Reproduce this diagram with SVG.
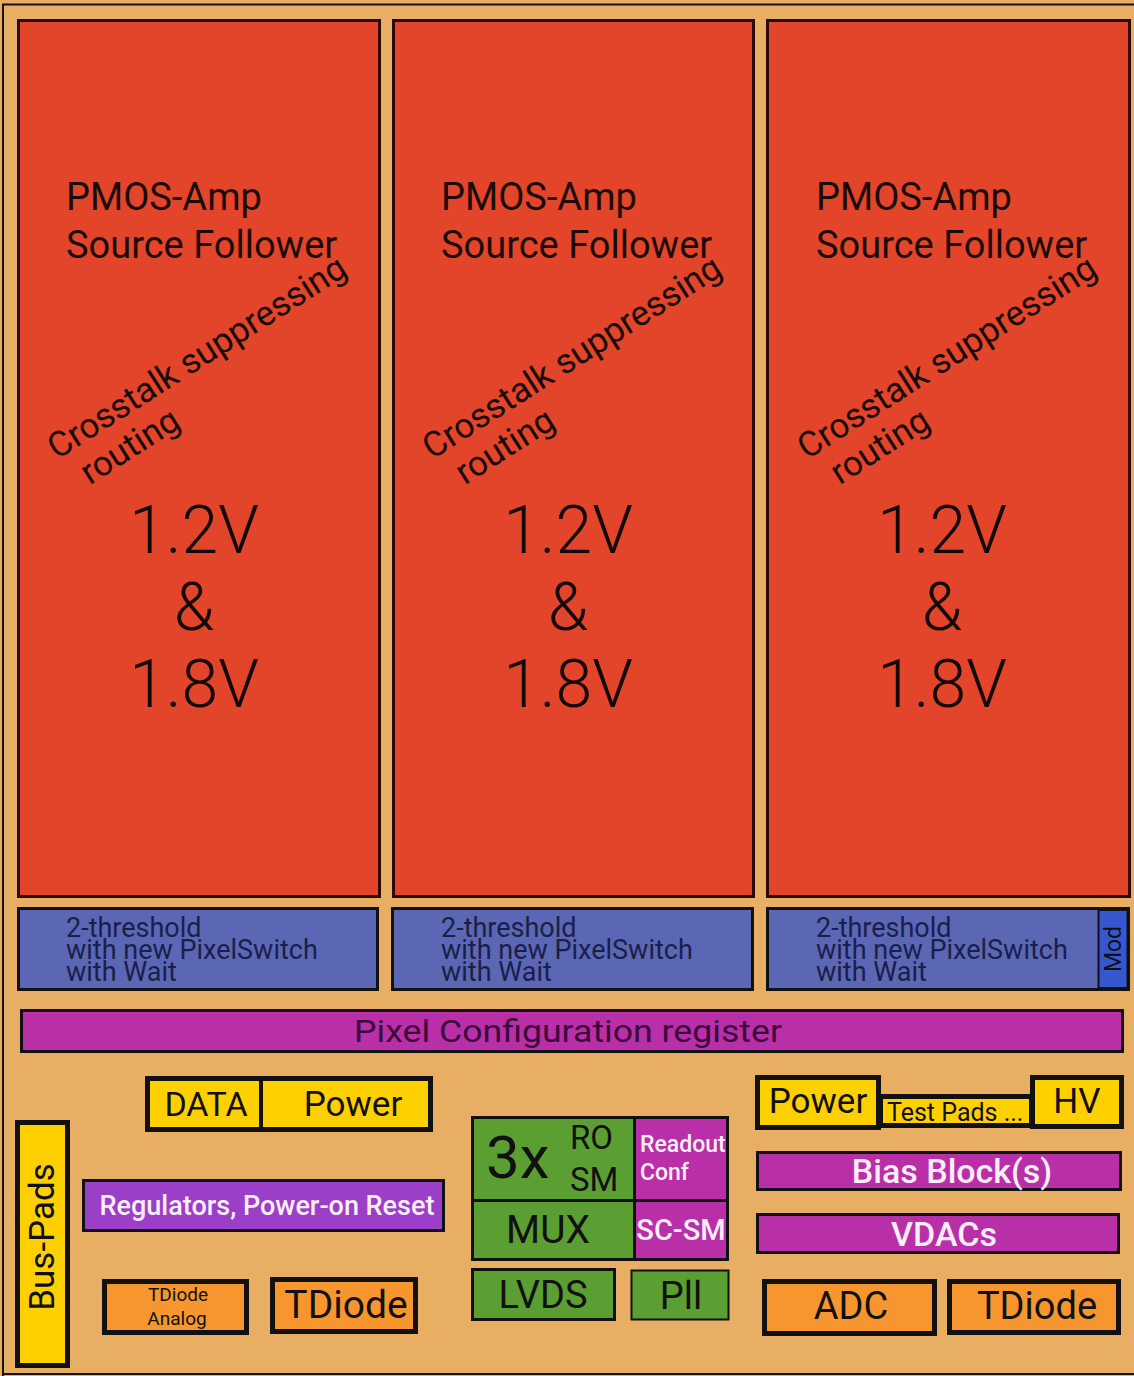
<svg xmlns="http://www.w3.org/2000/svg" width="1134" height="1376" viewBox="0 0 1134 1376">
<style>
text{font-family:Roboto,"Liberation Sans",sans-serif;}
.red{fill:#E3452A;stroke:#2a0a05;stroke-width:3}
.blue{fill:#5B66B5;stroke:#111;stroke-width:3}
.mag{fill:#B92FA8;stroke:#111;stroke-width:3}
.pur{fill:#9B3FC8;stroke:#111;stroke-width:3}
.yel{fill:#FFD000;stroke:#111;stroke-width:5}
.org{fill:#F7962E;stroke:#111;stroke-width:5}
.grn{fill:#5B9E32;stroke:#111;stroke-width:3}
.t1{font-size:38px;fill:#1a0a08}
.cross{font-size:35px;fill:#1a0a08}
.volt{font-size:66px;font-weight:300;fill:#120808;text-anchor:middle}
.bt{font-size:27px;fill:#1a1f4a}
.dk{fill:#111}
.wh{fill:#fbeefb;font-weight:500}
.mid{text-anchor:middle}
</style>
<rect x="0" y="0" width="1134" height="1376" fill="#E8AE64"/>
<path d="M3,1376 V4.5 H1134 M3,1374 H1134" fill="none" stroke="#111" stroke-width="2"/>

<g id="col1">
<rect class="red" x="18.5" y="20.5" width="361" height="876"/>
<text class="t1" x="66" y="210">PMOS-Amp</text>
<text class="t1" x="66" y="258">Source Follower</text>
<text class="cross" transform="translate(57,460) rotate(-32.5)"><tspan x="0" y="0">Crosstalk suppressing</tspan><tspan x="14" y="39">routing</tspan></text>
<text class="volt" x="194" y="553">1.2V</text>
<text class="volt" x="194" y="630">&amp;</text>
<text class="volt" x="194" y="707">1.8V</text>
</g>
<g id="col2">
<rect class="red" x="393.5" y="20.5" width="360" height="876"/>
<text class="t1" x="441" y="210">PMOS-Amp</text>
<text class="t1" x="441" y="258">Source Follower</text>
<text class="cross" transform="translate(432,460) rotate(-32.5)"><tspan x="0" y="0">Crosstalk suppressing</tspan><tspan x="14" y="39">routing</tspan></text>
<text class="volt" x="568" y="553">1.2V</text>
<text class="volt" x="568" y="630">&amp;</text>
<text class="volt" x="568" y="707">1.8V</text>
</g>
<g id="col3">
<rect class="red" x="767.5" y="20.5" width="362" height="876"/>
<text class="t1" x="816" y="210">PMOS-Amp</text>
<text class="t1" x="816" y="258">Source Follower</text>
<text class="cross" transform="translate(807,460) rotate(-32.5)"><tspan x="0" y="0">Crosstalk suppressing</tspan><tspan x="14" y="39">routing</tspan></text>
<text class="volt" x="942" y="553">1.2V</text>
<text class="volt" x="942" y="630">&amp;</text>
<text class="volt" x="942" y="707">1.8V</text>
</g>

<g id="thr1">
<rect class="blue" x="18.5" y="908.5" width="359" height="81"/>
<text class="bt" x="66" y="937">2-threshold</text>
<text class="bt" x="66" y="959">with new PixelSwitch</text>
<text class="bt" x="66" y="981">with Wait</text>
</g>
<g id="thr2">
<rect class="blue" x="392.5" y="908.5" width="360" height="81"/>
<text class="bt" x="441" y="937">2-threshold</text>
<text class="bt" x="441" y="959">with new PixelSwitch</text>
<text class="bt" x="441" y="981">with Wait</text>
</g>
<g id="thr3">
<rect class="blue" x="767.5" y="908.5" width="361" height="81"/>
<text class="bt" x="816" y="937">2-threshold</text>
<text class="bt" x="816" y="959">with new PixelSwitch</text>
<text class="bt" x="816" y="981">with Wait</text>
</g>
<g id="mod">
<rect x="1098.5" y="910" width="29" height="78" fill="#3558D0" stroke="#111" stroke-width="2"/>
<text class="mid" transform="translate(1121,949) rotate(-90)" font-size="23" fill="#111">Mod</text>
</g>

<g id="pcr">
<rect class="mag" x="21.5" y="1010.5" width="1101" height="41"/>
<text class="mid" x="568" y="1042" font-size="32" textLength="428" lengthAdjust="spacingAndGlyphs" fill="#3a0a3a">Pixel Configuration register</text>
</g>

<g id="datapower">
<rect class="yel" x="147.5" y="1078.5" width="283" height="51"/>
<line x1="261" y1="1078" x2="261" y2="1130" stroke="#111" stroke-width="4"/>
<text class="dk mid" x="206" y="1116" font-size="34">DATA</text>
<text class="dk mid" x="353" y="1116" font-size="35">Power</text>
</g>
<g id="buspads">
<rect class="yel" x="17.5" y="1122.5" width="50" height="243"/>
<text class="dk mid" transform="translate(54,1237) rotate(-90)" font-size="35">Bus-Pads</text>
</g>
<g id="regulators">
<rect class="pur" x="83.5" y="1180.5" width="360" height="50"/>
<text class="wh mid" x="267" y="1215" font-size="27">Regulators, Power-on Reset</text>
</g>
<g id="tdiodeanalog">
<rect class="org" x="104.5" y="1281.5" width="142" height="51"/>
<text class="dk mid" x="178" y="1301" font-size="19">TDiode</text>
<text class="dk mid" x="177" y="1325" font-size="19">Analog</text>
</g>
<g id="tdiode1">
<rect class="org" x="272.5" y="1279.5" width="143" height="52"/>
<text class="dk mid" x="346" y="1318" font-size="39">TDiode</text>
</g>

<g id="rosm">
<rect class="grn" x="472.5" y="1117.5" width="162" height="83"/>
<text class="dk" x="486" y="1178" font-size="60">3x</text>
<text class="dk" x="570" y="1149" font-size="33">RO</text>
<text class="dk" x="570" y="1191" font-size="33">SM</text>
</g>
<g id="readoutconf">
<rect class="mag" x="634.5" y="1117.5" width="93" height="83"/>
<text class="wh" x="640" y="1152" font-size="23">Readout</text>
<text class="wh" x="640" y="1180" font-size="23">Conf</text>
</g>
<g id="mux">
<rect class="grn" x="472.5" y="1200.5" width="162" height="59"/>
<text class="dk mid" x="548" y="1243" font-size="39">MUX</text>
</g>
<g id="scsm">
<rect class="mag" x="634.5" y="1200.5" width="93" height="59"/>
<text class="wh mid" x="681" y="1240" font-size="29">SC-SM</text>
</g>
<g id="lvds">
<rect class="grn" x="472.5" y="1269.5" width="142" height="50"/>
<text class="dk mid" x="543" y="1308" font-size="38">LVDS</text>
</g>
<g id="pll">
<rect x="631.5" y="1270.5" width="97" height="49" fill="#5B9E32" stroke="#111" stroke-width="2"/>
<text class="dk mid" x="681" y="1309" font-size="38">Pll</text>
</g>

<g id="power2">
<rect class="yel" x="757.5" y="1077.5" width="121" height="50"/>
<text class="dk mid" x="818" y="1113" font-size="35">Power</text>
</g>
<g id="testpads">
<rect class="yel" x="880.5" y="1096.5" width="151" height="29"/>
<text class="dk" x="887" y="1121" font-size="25">Test Pads ...</text>
</g>
<g id="hv">
<rect class="yel" x="1032.5" y="1077.5" width="89" height="49"/>
<text class="dk mid" x="1077" y="1113" font-size="35">HV</text>
</g>
<g id="bias">
<rect class="mag" x="757.5" y="1152.5" width="363" height="37"/>
<text class="wh mid" x="952" y="1183" font-size="34">Bias Block(s)</text>
</g>
<g id="vdacs">
<rect class="mag" x="757.5" y="1214.5" width="361" height="38"/>
<text class="wh mid" x="944" y="1246" font-size="34">VDACs</text>
</g>
<g id="adc">
<rect class="org" x="764.5" y="1281.5" width="170" height="52"/>
<text class="dk mid" x="851" y="1319" font-size="38">ADC</text>
</g>
<g id="tdiode2">
<rect class="org" x="949.5" y="1281.5" width="169" height="51"/>
<text class="dk mid" x="1037" y="1319" font-size="38">TDiode</text>
</g>
<g id="connectors"></g>
</svg>
